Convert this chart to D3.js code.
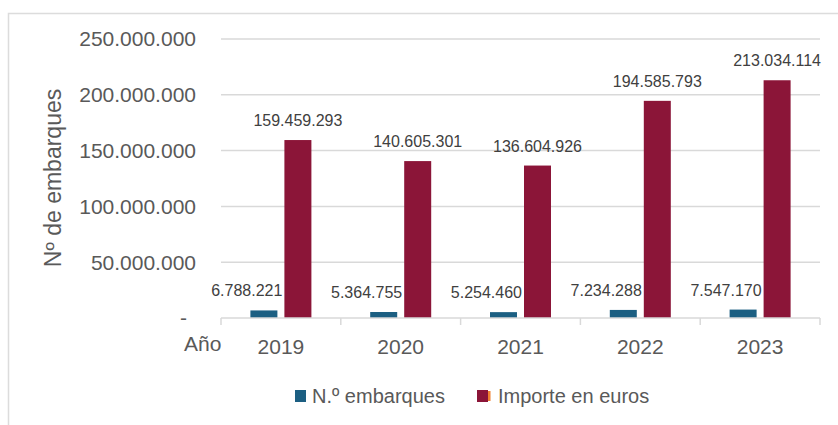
<!DOCTYPE html>
<html>
<head>
<meta charset="utf-8">
<script src="https://cdn.jsdelivr.net/npm/d3@7"></script>
<style>
html,body{margin:0;padding:0;background:#fff;}
svg{display:block;font-family:"Liberation Sans",Arial,sans-serif;}
</style>
</head>
<body>
<svg id="chart" width="838" height="425"></svg>
<script>
const years = ["2019", "2020", "2021", "2022", "2023"];
const embarques = [6788221, 5364755, 5254460, 7234288, 7547170];
const importe = [159459293, 140605301, 136604926, 194585793, 213034114];
const yTicks = [0, 50000000, 100000000, 150000000, 200000000, 250000000];
const seriesNames = ["N.º embarques", "Importe en euros"];
const colors = ["#1c5f82", "#8b1538"];

(function () {
const svg = d3.select("#chart");
const fmt = v => v === 0 ? "-" : d3.format(",")(v).replace(/,/g, ".");

const pLeft = 221, pRight = 820, pTop = 39, pBottom = 318;
const x = d3.scaleBand().domain(years).range([pLeft, pRight]).padding(0);
const y = d3.scaleLinear().domain([0, 250000000]).range([pBottom, pTop]);

// frame
svg.append("path").attr("d", "M8.5,425 L8.5,13.5 L838,13.5")
  .attr("fill", "none").attr("stroke", "#dcdcdc").attr("stroke-width", 1.5);

// gridlines
svg.append("g").selectAll("line").data(yTicks.filter(d => d > 0)).join("line")
  .attr("x1", pLeft).attr("x2", pRight)
  .attr("y1", d => y(d)).attr("y2", d => y(d))
  .attr("stroke", "#d9d9d9").attr("stroke-width", 1.5);

// y tick labels
svg.append("g").selectAll("text").data(yTicks).join("text")
  .attr("x", d => d === 0 ? 187 : 196)
  .attr("y", d => y(d))
  .attr("dy", "0.35em")
  .attr("text-anchor", "end")
  .attr("fill", "#595959")
  .attr("font-size", 21)
  .text(fmt);

// y axis title
svg.append("text")
  .attr("transform", "translate(61,178) rotate(-90)")
  .attr("text-anchor", "middle")
  .attr("fill", "#595959")
  .attr("font-size", 23)
  .text("Nº de embarques");

// bars
const bw = 27, gap = 7;
const groups = svg.append("g").selectAll("g").data(years).join("g");
groups.append("rect")
  .attr("x", (d, i) => x(d) + x.bandwidth() / 2 - gap / 2 - bw)
  .attr("y", (d, i) => y(embarques[i]))
  .attr("width", bw)
  .attr("height", (d, i) => pBottom - y(embarques[i]))
  .attr("fill", colors[0]);
groups.append("rect")
  .attr("x", (d, i) => x(d) + x.bandwidth() / 2 + gap / 2)
  .attr("y", (d, i) => y(importe[i]))
  .attr("width", bw)
  .attr("height", (d, i) => pBottom - y(importe[i]))
  .attr("fill", colors[1]);

// value labels
groups.append("text")
  .attr("x", (d, i) => x(d) + x.bandwidth() / 2 - gap / 2 + 5)
  .attr("y", (d, i) => y(embarques[i]) - 14)
  .attr("text-anchor", "end")
  .attr("fill", "#404040")
  .attr("font-size", 16)
  .text((d, i) => fmt(embarques[i]));
groups.append("text")
  .attr("x", (d, i) => x(d) + x.bandwidth() / 2 + gap / 2 + bw / 2)
  .attr("y", (d, i) => y(importe[i]) - 14)
  .attr("text-anchor", "middle")
  .attr("fill", "#404040")
  .attr("font-size", 16)
  .text((d, i) => fmt(importe[i]));

// x axis
const xAxis = svg.append("g");
xAxis.append("line").attr("x1", pLeft).attr("x2", pRight)
  .attr("y1", pBottom).attr("y2", pBottom)
  .attr("stroke", "#d9d9d9").attr("stroke-width", 1.5);
const bounds = years.map(d => x(d)).concat([pRight]);
xAxis.selectAll("line.tick").data(bounds).join("line")
  .attr("class", "tick")
  .attr("x1", d => d).attr("x2", d => d)
  .attr("y1", pBottom).attr("y2", pBottom + 7)
  .attr("stroke", "#d9d9d9").attr("stroke-width", 1.5);
xAxis.selectAll("text").data(years).join("text")
  .attr("x", d => x(d) + x.bandwidth() / 2)
  .attr("y", 354)
  .attr("text-anchor", "middle")
  .attr("fill", "#595959")
  .attr("font-size", 21)
  .text(d => d);
svg.append("text").attr("x", 184).attr("y", 351)
  .attr("fill", "#595959").attr("font-size", 21).text("Año");

// legend
const legend = svg.append("g");
const legX = [295, 477];
legend.selectAll("rect.m").data(seriesNames).join("rect")
  .attr("class", "m")
  .attr("x", (d, i) => legX[i]).attr("y", 390)
  .attr("width", 11).attr("height", 12)
  .attr("fill", (d, i) => colors[i]);
legend.append("rect").attr("x", 488).attr("y", 391).attr("width", 2.5).attr("height", 10)
  .attr("fill", "#f08030");
legend.selectAll("text").data(seriesNames).join("text")
  .attr("x", (d, i) => legX[i] + (i === 0 ? 17 : 21))
  .attr("y", 396)
  .attr("dy", "0.35em")
  .attr("fill", "#595959")
  .attr("font-size", 20)
  .text(d => d);
})();
</script>
</body>
</html>
